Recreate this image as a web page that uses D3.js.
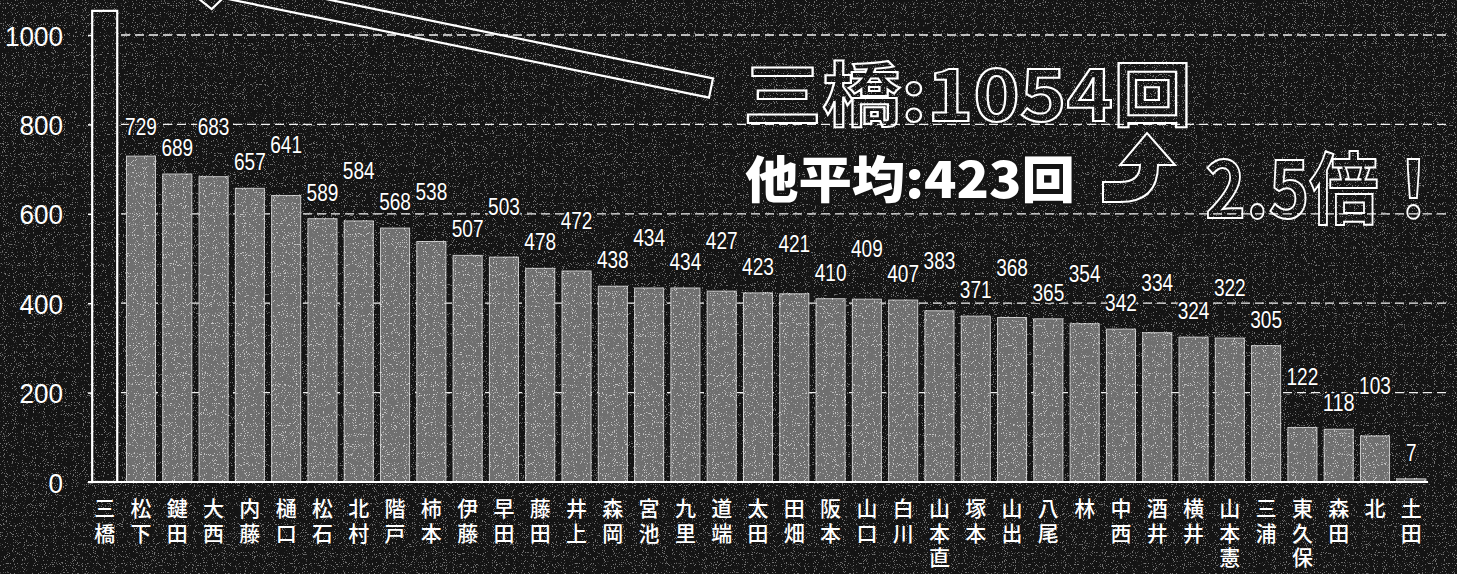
<!DOCTYPE html>
<html><head><meta charset="utf-8">
<script src="https://cdn.jsdelivr.net/npm/d3@7"></script>
<style>
html,body{margin:0;padding:0;background:#141414;}
svg{display:block;}
</style></head>
<body>
<svg id="chart" width="1457" height="574"></svg>
<script>
const categories = ["三橋","松下","鍵田","大西","内藤","樋口","松石","北村","階戸","柿本","伊藤","早田","藤田","井上","森岡","宮池","九里","道端","太田","田畑","阪本","山口","白川","山本直","塚本","山出","八尾","林","中西","酒井","横井","山本憲","三浦","東久保","森田","北","土田"];
const values = [1054,729,689,683,657,641,589,584,568,538,507,503,478,472,438,434,434,427,423,421,410,409,407,383,371,368,365,354,342,334,324,322,305,122,118,103,7];
const yTicks = [0,200,400,600,800,1000];
const gridTicks = [200,400,600,800,1000];
const titleMain = "三橋:1054回";
const titleAvg = "他平均:423回";
const titleRatio = "2.5倍！";

const W = 1457, H = 574;
const BG = "#141414";
const NUMFONT = "'Liberation Sans',Arial,sans-serif";
const svg = d3.select("#chart");

const defs = svg.append("defs");
const f = defs.append("filter").attr("id","noise").attr("x",0).attr("y",0).attr("width","100%").attr("height","100%");
f.append("feTurbulence").attr("type","fractalNoise").attr("baseFrequency","0.9").attr("numOctaves",1).attr("seed",7).attr("result","t");
f.append("feColorMatrix").attr("in","t").attr("type","matrix")
 .attr("values","0 0 0 0 1  0 0 0 0 1  0 0 0 0 1  14 0 0 0 -8.4");

svg.append("rect").attr("width",W).attr("height",H).attr("fill",BG);
svg.append("rect").attr("width",W).attr("height",H).attr("filter","url(#noise)").attr("opacity",0.4);

const x = d3.scaleBand().domain(categories).range([88,1428]).paddingInner(0.2).paddingOuter(0.06);
const y = d3.scaleLinear().domain([0,1000]).range([482,35]);

// gridlines
svg.append("g").selectAll("line").data(gridTicks).join("line")
  .attr("x1",93).attr("x2",1450)
  .attr("y1",d=>y(d)).attr("y2",d=>y(d))
  .attr("stroke","#f0f0f0").attr("stroke-width",1.3).attr("stroke-dasharray","9,5");

// y axis
const yAxis = d3.axisLeft(y).tickValues(yTicks).tickSize(5).tickPadding(25).tickFormat(d3.format("d"));
const ya = svg.append("g").attr("transform","translate(93,0)").call(yAxis);
ya.select(".domain").remove();
ya.selectAll(".tick line").attr("stroke","#fff").attr("stroke-width",1.5);
ya.selectAll(".tick text").attr("fill","#fff").attr("font-family",NUMFONT)
  .attr("font-size",28).attr("dy","0.36em")
  .attr("textLength",function(d){return String(d).length*14.5;}).attr("lengthAdjust","spacingAndGlyphs");

// bars
const bars = svg.append("g");
bars.selectAll("rect.bar").data(values).join("rect").attr("class","bar")
  .attr("x",(d,i)=> i===0 ? x(categories[i])+2 : x(categories[i]))
  .attr("width",(d,i)=> i===0 ? x.bandwidth()-4 : x.bandwidth())
  .attr("y",d=>y(d)).attr("height",d=>y(0)-y(d))
  .attr("fill",(d,i)=> i===0 ? BG : "#6f6f6f")
  .attr("stroke",(d,i)=> i===0 ? "#fff" : "#c8c8c8")
  .attr("stroke-width",(d,i)=> i===0 ? 2.2 : 1);
// texture on bars
bars.selectAll("rect.tex").data(values).join("rect").attr("class","tex")
  .attr("x",(d,i)=> i===0 ? x(categories[i])+3.5 : x(categories[i]))
  .attr("width",(d,i)=> i===0 ? x.bandwidth()-7 : x.bandwidth())
  .attr("y",(d,i)=> i===0 ? y(d)+1.5 : y(d))
  .attr("height",(d,i)=> i===0 ? y(0)-y(d)-3 : y(0)-y(d))
  .attr("filter","url(#noise)").attr("opacity",(d,i)=> i===0 ? 0.4 : 0.6);

// baseline
svg.append("line").attr("x1",88).attr("x2",1428).attr("y1",y(0)).attr("y2",y(0))
  .attr("stroke","#fff").attr("stroke-width",2);

// value labels (staggered)
svg.append("g").selectAll("text").data(values.slice(1)).join("text")
  .attr("x",(d,i)=>x(categories[i+1])+x.bandwidth()/2)
  .attr("y",(d,i)=>{const k=i+1; const off = (k%2===1 && k!==1) ? 42 : (k===1 ? 21 : 18); return y(d)-off;})
  .attr("text-anchor","middle")
  .attr("font-family",NUMFONT)
  .attr("font-size",23).attr("fill","#fff")
  .attr("textLength",d=>String(d).length*10.6).attr("lengthAdjust","spacingAndGlyphs")
  .attr("stroke",BG).attr("stroke-width",4).attr("paint-order","stroke")
  .text(d=>d);

// category labels (vertical)
const cl = svg.append("g").selectAll("text").data(categories).join("text")
  .attr("font-family","'Noto Sans CJK JP',sans-serif").attr("font-size",21).attr("font-weight",500).attr("fill","#fff")
  .attr("text-anchor","middle");
cl.each(function(c){
  const t = d3.select(this);
  const cx = x(c)+x.bandwidth()/2;
  Array.from(c).forEach((ch,j)=>{
    t.append("tspan").attr("x",cx).attr("y",516+j*24.5).text(ch);
  });
});

// annotation: long outlined arrow
const ang = Math.atan2(-0.205,-1)*180/Math.PI;
svg.append("path")
  .attr("transform",`translate(711,88) rotate(${ang})`)
  .attr("d","M0,-9.8 L496,-9.8 L505,-23 L550,0 L505,23 L496,9.8 L0,9.8 Z")
  .attr("fill","none").attr("stroke","#fff").attr("stroke-width",2.2);

// outlined title
svg.append("text").attr("x",743).attr("y",121)
  .attr("font-family","'Noto Sans CJK JP',sans-serif").attr("font-weight",700).attr("font-size",70)
  .attr("textLength",449).attr("lengthAdjust","spacingAndGlyphs")
  .attr("fill","none").attr("stroke","#fff").attr("stroke-width",2)
  .text(titleMain);

// average text
svg.append("text").attr("x",745).attr("y",198)
  .attr("font-family","'Noto Sans CJK JP',sans-serif").attr("font-weight",900).attr("font-size",50)
  .attr("textLength",330).attr("lengthAdjust","spacingAndGlyphs")
  .attr("fill","#fff").attr("stroke",BG).attr("stroke-width",5).attr("paint-order","stroke")
  .text(titleAvg);

// curved up arrow
svg.append("path")
  .attr("d","M1103,182 L1120,182 Q1140,182 1140,165 L1120,165 L1147,133 L1175,165 L1158,165 Q1158,202 1120,202 L1103,202 Z")
  .attr("fill","none").attr("stroke","#fff").attr("stroke-width",2);

// ratio
svg.append("text").attr("x",1205).attr("y",218)
  .attr("font-family","'Noto Sans CJK JP',sans-serif").attr("font-weight",700).attr("font-size",78)
  .attr("textLength",243).attr("lengthAdjust","spacingAndGlyphs")
  .attr("fill","none").attr("stroke","#fff").attr("stroke-width",2)
  .text(titleRatio);
</script>
</body></html>
